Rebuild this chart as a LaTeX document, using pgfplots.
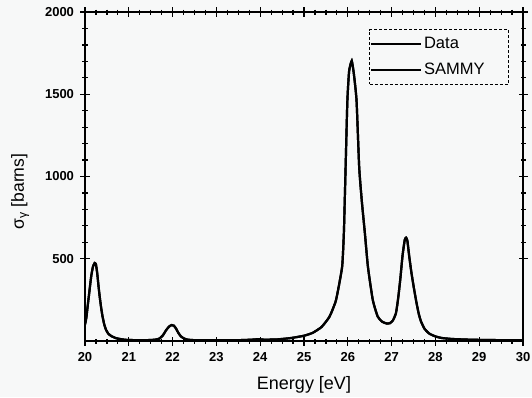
\documentclass[border=0pt]{standalone}
\usepackage{pgfplots}
\pgfplotsset{compat=1.18}
\usepackage{pgfplotstable}
\usepackage{fontspec}
\setmainfont{Liberation Sans}
\definecolor{bg}{RGB}{247,248,248}
\pgfplotstableread{
E sigma
20.00 100
20.03 140
20.06 210
20.10 300
20.14 390
20.18 450
20.22 474
20.25 465
20.28 410
20.31 330
20.34 260
20.37 200
20.40 150
20.44 100
20.48 68
20.53 45
20.60 30
20.70 18
20.80 12
20.90 8
21.00 6
21.20 5
21.40 5
21.60 8
21.70 15
21.78 35
21.85 65
21.92 88
21.98 97
22.03 93
22.08 75
22.13 50
22.19 28
22.27 14
22.35 8
22.50 5
23.00 4
23.50 5
23.80 8
23.95 11
24.10 8
24.40 10
24.70 18
25.00 32
25.20 50
25.40 85
25.58 147
25.73 248
25.87 450
25.91 655
25.93 850
25.95 1056
25.99 1460
26.03 1640
26.09 1703
26.14 1620
26.20 1460
26.26 1056
26.32 850
26.39 655
26.46 450
26.57 250
26.68 150
26.78 118
26.88 107
26.96 108
27.03 125
27.10 170
27.15 260
27.20 380
27.25 520
27.30 615
27.33 628
27.36 610
27.40 520
27.45 420
27.51 320
27.57 230
27.62 165
27.67 120
27.75 75
27.86 45
28.00 28
28.15 18
28.40 12
28.80 8
29.20 6
29.60 5
30.00 5
}\datatab
\pgfplotstableread{
E sigma
20.00 100
20.03 140
20.06 210
20.10 300
20.14 390
20.18 450
20.22 474
20.25 465
20.28 410
20.31 330
20.34 260
20.37 200
20.40 150
20.44 100
20.48 68
20.53 45
20.60 30
20.70 18
20.80 12
20.90 8
21.00 6
21.20 5
21.40 5
21.60 8
21.70 15
21.78 35
21.85 65
21.92 88
21.98 97
22.03 93
22.08 75
22.13 50
22.19 28
22.27 14
22.35 8
22.50 5
23.00 4
23.50 5
23.80 8
23.95 11
24.10 8
24.40 10
24.70 18
25.00 32
25.20 50
25.40 85
25.58 147
25.73 248
25.87 450
25.91 655
25.93 850
25.95 1056
25.99 1460
26.03 1640
26.09 1703
26.14 1620
26.20 1460
26.26 1056
26.32 850
26.39 655
26.46 450
26.57 250
26.68 150
26.78 118
26.88 107
26.96 108
27.03 125
27.10 170
27.15 260
27.20 380
27.25 520
27.30 615
27.33 628
27.36 610
27.40 520
27.45 420
27.51 320
27.57 230
27.62 165
27.67 120
27.75 75
27.86 45
28.00 28
28.15 18
28.40 12
28.80 8
29.20 6
29.60 5
30.00 5
}\sammytab
\begin{document}
\begin{tikzpicture}[x=1pt,y=1pt]
\fill[bg] (0,0) rectangle (532,397);
\useasboundingbox (0,0) rectangle (532,397);
\begin{axis}[
  at={(85pt,56pt)}, anchor=south west,
  scale only axis, width=438pt, height=329pt,
  xmin=20, xmax=30, ymin=0, ymax=2000,
  xtick={20,21,...,30}, ytick={500,1000,1500,2000},
  minor x tick num=3, minor y tick num=4,
  tick align=center, major tick length=9pt, minor tick length=5pt,
  every tick/.style={black, line width=1.2pt},
  axis line style={line width=1.8pt},
  ticklabel style={font=\fontsize{13}{15}\selectfont\bfseries},
  xticklabel style={yshift=-3pt},
  yticklabel style={xshift=-3pt},
  /pgf/number format/assume math mode=true,
  /pgf/number format/1000 sep={},
  xlabel={Energy [eV]},
  ylabel={σ\textsubscript{γ} [barns]},
  xlabel style={at={(axis description cs:0.5,-0.134)}, anchor=center, font=\fontsize{18}{21}\selectfont},
  ylabel style={at={(axis description cs:-0.148,0.454)}, anchor=center, font=\fontsize{17.5}{20}\selectfont},
  legend style={at={(axis description cs:0.968,0.948)}, anchor=north east,
    draw=black, densely dashed, line width=0.8pt, fill=none,
    font=\fontsize{16.5}{18}\selectfont, inner xsep=0pt, inner ysep=6pt, row sep=9pt},
  legend cell align=left,
  legend image code/.code={\draw[#1, solid] (0pt,0pt) -- (50pt,0pt);},
]
\addplot[black, line width=2.2pt, smooth, tension=0.3] table[x=E, y=sigma] {\datatab};
\addlegendentry{Data\rule{22pt}{0pt}}
\addplot[black, line width=2.2pt, smooth, tension=0.3] table[x=E, y=sigma] {\sammytab};
\addlegendentry{SAMMY\rule{22pt}{0pt}}
\end{axis}
\end{tikzpicture}
\end{document}
